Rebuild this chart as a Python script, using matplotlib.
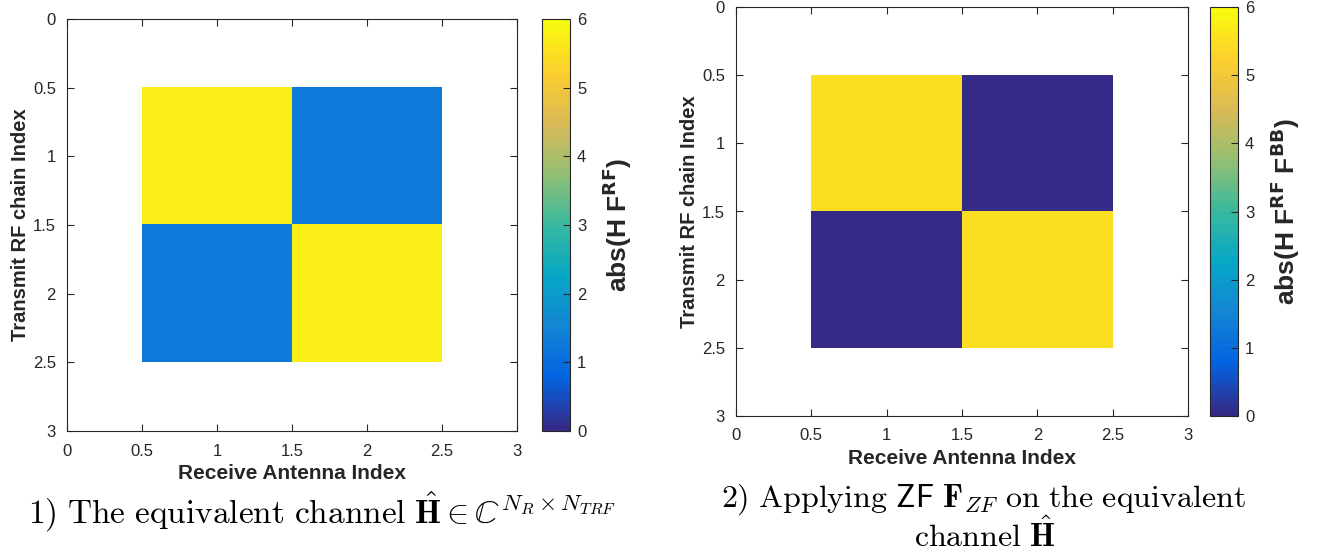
import matplotlib
matplotlib.use('Agg')
import matplotlib.pyplot as plt
import numpy as np
from matplotlib.colors import LinearSegmentedColormap
from matplotlib.ticker import FormatStrFormatter

plt.rcParams['font.family'] = ['Liberation Sans', 'DejaVu Sans']
plt.rcParams['mathtext.fontset'] = 'cm'

# data
rx_index = [1, 2]
tx_index = [1, 2]
equiv_channel = [[5.8, 1.3],
                 [1.3, 5.8]]
zf_channel = [[5.45, 0.0],
              [0.0, 5.45]]
ticks = [0, 0.5, 1, 1.5, 2, 2.5, 3]
cbar_ticks = [0, 1, 2, 3, 4, 5, 6]

# rough parula colormap
parula_pts = ['#352A87', '#0363E1', '#1485D4', '#06A7C6', '#38B99E',
              '#92BF73', '#D9BA56', '#FCCE2E', '#F9FB0E']
parula = LinearSegmentedColormap.from_list('parula', parula_pts, N=64)

W, H = 1325, 559
fig = plt.figure(figsize=(W / 100, H / 100), dpi=100)
ink = '#262626'


def px(x0, y0, x1, y1):
    return [x0 / W, 1 - y1 / H, (x1 - x0) / W, (y1 - y0) / H]


def panel(ax_rect, cb_rect, data, cb_label):
    ax = fig.add_axes(px(*ax_rect))
    im = ax.imshow(np.array(data), cmap=parula, vmin=0, vmax=6,
                   extent=(rx_index[0] - 0.5, rx_index[-1] + 0.5,
                           tx_index[-1] + 0.5, tx_index[0] - 0.5),
                   interpolation='nearest', aspect='auto')
    ax.set_xlim(0, 3)
    ax.set_ylim(3, 0)
    ax.set_xticks(ticks)
    ax.set_yticks(ticks)
    ax.xaxis.set_major_formatter(FormatStrFormatter('%g'))
    ax.yaxis.set_major_formatter(FormatStrFormatter('%g'))
    ax.tick_params(direction='in', top=True, right=True, length=5,
                   labelsize=12, colors=ink, width=0.8)
    ax.tick_params(axis='x', pad=9)
    ax.tick_params(axis='y', pad=8)
    for s in ax.spines.values():
        s.set_color(ink)
        s.set_linewidth(0.8)
    ax.set_xlabel('Receive Antenna Index', fontsize=15, fontweight='bold',
                  color=ink, labelpad=4)
    ax.set_ylabel('Transmit RF chain Index', fontsize=14.5, fontweight='bold',
                  color=ink, labelpad=2)
    cax = fig.add_axes(px(*cb_rect))
    cb = fig.colorbar(im, cax=cax, ticks=cbar_ticks)
    cb.ax.tick_params(direction='in', length=5, labelsize=12,
                      colors=ink, width=0.8, pad=5)
    cb.outline.set_edgecolor(ink)
    cb.outline.set_linewidth(0.8)
    cb.set_label(cb_label, fontsize=19, fontweight='bold', color=ink,
                 labelpad=10, math_fontfamily='dejavusans')
    return ax


panel((67, 19, 517, 431), (542, 19, 570, 431), equiv_channel,
      r'abs(H F$^{\mathbf{RF}}$)')
panel((736, 7, 1188, 416), (1210, 7, 1238, 416), zf_channel,
      r'abs(H F$^{\mathbf{RF}}$ F$^{\mathbf{BB}}$)')

fig.text(322 / W, 1 - 512 / H,
         r'$\mathrm{1)\ The\ equivalent\ channel\ }\hat{\mathbf{H}}\in\mathbb{C}^{N_R\times N_{TRF}}$',
         ha='center', va='center', fontsize=24)
fig.text(983 / W, 1 - 500 / H,
         r'$\mathrm{2)\ Applying\ }\mathsf{ZF}\ \mathbf{F}_{ZF}\mathrm{\ on\ the\ equivalent}$',
         ha='center', va='center', fontsize=23)
fig.text(985 / W, 1 - 536 / H, r'$\mathrm{channel\ }\hat{\mathbf{H}}$',
         ha='center', va='center', fontsize=23)

fig.savefig('out.png', dpi=100)
